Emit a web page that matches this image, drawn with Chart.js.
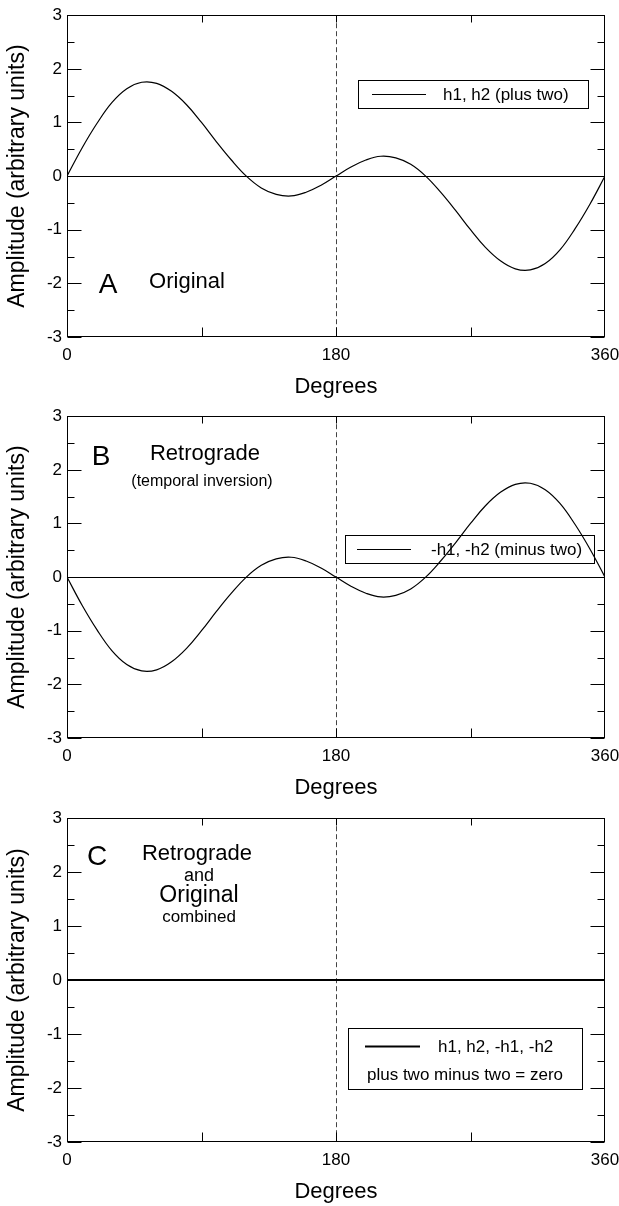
<!DOCTYPE html>
<html>
<head>
<meta charset="utf-8">
<script src="https://cdn.jsdelivr.net/npm/chart.js@4.4.0/dist/chart.umd.min.js"></script>
<style>
  html, body { margin: 0; padding: 0; background: #fff; }
  #page { position: relative; width: 619px; height: 1206px; }
  .panel { position: absolute; left: 0; width: 619px; height: 401px; }
</style>
</head>
<body>
<div id="page">
  <div class="panel" style="top:0"><canvas id="chartA"></canvas></div>
  <div class="panel" style="top:401px"><canvas id="chartB"></canvas></div>
  <div class="panel" style="top:803px;height:403px"><canvas id="chartC"></canvas></div>
</div>
<script>
// Valores (graus 0..360, passo 10)
const degrees = [0, 10, 20, 30, 40, 50, 60, 70, 80, 90, 100, 110, 120, 130, 140, 150, 160, 170, 180,
  190, 200, 210, 220, 230, 240, 250, 260, 270, 280, 290, 300, 310, 320, 330, 340, 350, 360];
const plusTwo = [0, 0.52, 0.98, 1.37, 1.63, 1.75, 1.73, 1.58, 1.33, 1.00, 0.64, 0.30, 0, -0.22, -0.34, -0.37, -0.30, -0.17, 0,
  0.17, 0.30, 0.37, 0.34, 0.22, 0, -0.30, -0.64, -1.00, -1.33, -1.58, -1.73, -1.75, -1.63, -1.37, -0.98, -0.52, 0];
const minusTwo = [0, -0.52, -0.98, -1.37, -1.63, -1.75, -1.73, -1.58, -1.33, -1.00, -0.64, -0.30, 0, 0.22, 0.34, 0.37, 0.30, 0.17, 0,
  -0.17, -0.30, -0.37, -0.34, -0.22, 0, 0.30, 0.64, 1.00, 1.33, 1.58, 1.73, 1.75, 1.63, 1.37, 0.98, 0.52, 0];
const combined = [0, 0, 0, 0, 0, 0, 0, 0, 0, 0, 0, 0, 0, 0, 0, 0, 0, 0, 0,
  0, 0, 0, 0, 0, 0, 0, 0, 0, 0, 0, 0, 0, 0, 0, 0, 0, 0];

const xLabelTicks = [0, 180, 360];
const xInnerTicks = [90, 180, 270];
const yMajorTicks = [-3, -2, -1, 0, 1, 2, 3];
const yMinorTicks = [-2.5, -1.5, -0.5, 0.5, 1.5, 2.5];
const seriesLabels = ['h1, h2 (plus two)', '-h1, -h2 (minus two)', 'h1, h2, -h1, -h2'];

const FONT = "'Liberation Sans', Arial, Helvetica, sans-serif";
Chart.defaults.font.family = FONT;
Chart.defaults.color = '#000';

// moldura, ticks internos, linha tracejada em 180, textos e legenda
const panelDecor = {
  id: 'panelDecor',
  beforeDatasetsDraw(chart) {
    const { ctx, chartArea: a, scales: { x, y } } = chart;
    ctx.save();
    ctx.lineWidth = 1;
    ctx.strokeStyle = '#000';
    const y0 = Math.round(y.getPixelForValue(0)) + 0.5;
    ctx.beginPath(); ctx.moveTo(a.left, y0); ctx.lineTo(a.right, y0); ctx.stroke();
    const xm = Math.round(x.getPixelForValue(180)) + 0.5;
    ctx.strokeStyle = '#444';
    ctx.setLineDash([5, 3]);
    ctx.beginPath(); ctx.moveTo(xm, a.top); ctx.lineTo(xm, a.bottom); ctx.stroke();
    ctx.restore();
  },
  afterDatasetsDraw(chart, args, opts) {
    const { ctx, chartArea: a, scales: { x, y } } = chart;
    const L = Math.round(a.left) + 0.5, R = Math.round(a.right) - 0.5;
    const T = Math.round(a.top) + 0.5, B = Math.round(a.bottom) - 0.5;
    ctx.save();
    ctx.strokeStyle = '#000';
    ctx.lineWidth = 1;
    ctx.strokeRect(L, T, R - L, B - T);

    const tick = (x1, y1, x2, y2) => { ctx.beginPath(); ctx.moveTo(x1, y1); ctx.lineTo(x2, y2); ctx.stroke(); };
    yMajorTicks.forEach(v => {
      const py = Math.round(y.getPixelForValue(v)) + 0.5;
      tick(L, py, L + 14, py);
      tick(R, py, R - 14, py);
    });
    yMinorTicks.forEach(v => {
      const py = Math.round(y.getPixelForValue(v)) + 0.5;
      tick(L, py, L + 7, py);
      tick(R, py, R - 7, py);
    });
    xInnerTicks.forEach(v => {
      const px = Math.round(x.getPixelForValue(v)) + 0.5;
      tick(px, B, px, B - 9);
      tick(px, T, px, T + 7);
    });

    // textos do painel
    ctx.fillStyle = '#000';
    ctx.textAlign = 'center';
    ctx.textBaseline = 'alphabetic';
    (opts.notes || []).forEach(n => {
      ctx.font = n.size + 'px ' + FONT;
      ctx.fillText(n.text, n.x, n.y);
    });

    // legenda
    const lg = opts.legend;
    if (lg) {
      ctx.lineWidth = 1;
      ctx.strokeRect(lg.x + 0.5, lg.y + 0.5, lg.w, lg.h);
      ctx.lineWidth = chart.data.datasets[0].borderWidth;
      tick(lg.lineX1, lg.lineY, lg.lineX2, lg.lineY);
      ctx.font = '17px ' + FONT;
      ctx.textAlign = 'left';
      ctx.fillText(chart.data.datasets[0].label, lg.textX, lg.textY);
      if (lg.extra) {
        ctx.textAlign = 'center';
        ctx.fillText(lg.extra.text, lg.extra.x, lg.extra.y);
      }
    }
    ctx.restore();
  }
};

function makePanel(id, label, values, width, decor) {
  return new Chart(document.getElementById(id), {
    type: 'line',
    data: {
      datasets: [{
        label: label,
        data: degrees.map((d, i) => ({ x: d, y: values[i] })),
        borderColor: '#000',
        borderWidth: width,
        pointRadius: 0,
        fill: false,
        tension: 0.4
      }]
    },
    options: {
      responsive: true,
      maintainAspectRatio: false,
      animation: false,
      layout: { padding: { top: 15, right: 0, left: 0, bottom: 0 } },
      plugins: {
        legend: { display: false },
        tooltip: { enabled: false },
        panelDecor: decor
      },
      scales: {
        x: {
          type: 'linear',
          min: 0,
          max: 360,
          afterBuildTicks: s => { s.ticks = xLabelTicks.map(v => ({ value: v })); },
          afterFit: s => { s.height = 64; s.paddingRight = 14; },
          ticks: { font: { size: 17 }, color: '#000', padding: 8, maxRotation: 0 },
          grid: { display: false, drawTicks: false },
          border: { display: false },
          title: { display: true, text: 'Degrees', font: { size: 22 }, color: '#000', padding: { top: 0, bottom: 1 } }
        },
        y: {
          min: -3,
          max: 3,
          afterBuildTicks: s => { s.ticks = yMajorTicks.map(v => ({ value: v })); },
          afterFit: s => { s.width = 67; },
          ticks: { font: { size: 17 }, color: '#000', padding: 5 },
          grid: { display: false, drawTicks: false },
          border: { display: false },
          title: { display: true, text: 'Amplitude (arbitrary units)', font: { size: 23 }, color: '#000', padding: { top: 4, bottom: 0 } }
        }
      }
    },
    plugins: [panelDecor]
  });
}

makePanel('chartA', seriesLabels[0], plusTwo, 1.2, {
  notes: [
    { text: 'A', x: 108, y: 293, size: 28 },
    { text: 'Original', x: 187, y: 288, size: 22 }
  ],
  legend: { x: 358, y: 80, w: 230, h: 28, lineX1: 372, lineX2: 426, lineY: 94.5, textX: 443, textY: 100 }
});

makePanel('chartB', seriesLabels[1], minusTwo, 1.2, {
  notes: [
    { text: 'B', x: 101, y: 64, size: 28 },
    { text: 'Retrograde', x: 205, y: 59, size: 22 },
    { text: '(temporal inversion)', x: 202, y: 85, size: 16 }
  ],
  legend: { x: 345, y: 134, w: 249, h: 28, lineX1: 357, lineX2: 411, lineY: 148.5, textX: 431, textY: 154 }
});

makePanel('chartC', seriesLabels[2], combined, 2, {
  notes: [
    { text: 'C', x: 97, y: 62, size: 28 },
    { text: 'Retrograde', x: 197, y: 57, size: 22 },
    { text: 'and', x: 199, y: 78, size: 18 },
    { text: 'Original', x: 199, y: 99, size: 23 },
    { text: 'combined', x: 199, y: 119, size: 17 }
  ],
  legend: { x: 348, y: 225, w: 234, h: 61, lineX1: 365, lineX2: 420, lineY: 243.5, textX: 438, textY: 249,
    extra: { text: 'plus two minus two = zero', x: 465, y: 277 } }
});
</script>
</body>
</html>
